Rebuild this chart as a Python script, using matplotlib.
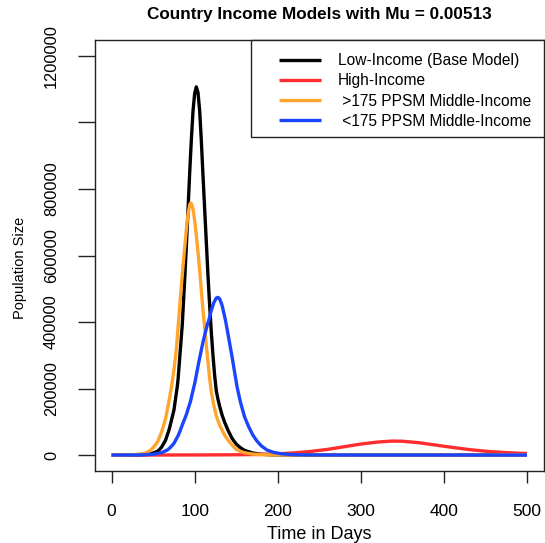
import matplotlib
matplotlib.use("Agg")
import matplotlib.pyplot as plt
from matplotlib.patches import Rectangle

plt.rcParams['font.family'] = ['Liberation Sans', 'DejaVu Sans']

# ---- data ----
low_days = [0, 10, 20, 30, 40, 45, 50, 55, 57, 60, 65, 69, 70, 75, 79, 80, 85, 88, 90, 92, 94,
            96, 98, 100, 102, 104, 106, 108, 110, 112, 114, 116, 118, 120, 122, 124, 126, 128,
            130, 133, 136, 140, 145, 150, 155, 160, 170, 180, 190, 200, 220, 250, 300, 400, 500]
low_vals = [10, 30, 100, 400, 1500, 3000, 6000, 11000, 15000, 23000, 45000, 75000, 84000,
            135000, 205000, 228000, 390000, 530000, 630000, 740000, 850000,
            950000, 1035000, 1088000, 1107000, 1090000, 1035000, 945000, 840000, 740000,
            640000, 540000, 450000, 370000, 300000, 240000, 193000, 168000,
            147000, 120000, 99000, 75000, 50000, 33000, 22000, 14000, 6000, 2500, 1000,
            400, 60, 5, 0, 0, 0]

high_days = [0, 50, 100, 150, 180, 200, 220, 240, 260, 280, 300, 320, 338, 350, 370, 390,
             410, 430, 450, 470, 490, 500]
high_vals = [0, 50, 200, 800, 1800, 3500, 6500, 11000, 17000, 25000, 33000, 39000, 42000,
             41500, 37000, 30000, 23000, 16500, 11500, 8000, 5500, 4500]

mid_hi_days = [0, 10, 20, 30, 40, 45, 47, 50, 55, 60, 65, 70, 72, 75, 78, 80, 83, 86, 88, 90,
               92, 94, 95, 96, 98, 100, 102, 104, 106, 108, 110, 112, 114, 116, 118, 120, 123,
               126, 130, 133, 136, 140, 145, 150, 155, 160, 170, 180, 190, 200, 220, 250, 300,
               400, 500]
mid_hi_vals = [50, 150, 500, 1600, 5500, 11000, 15000, 22000, 38000, 68000, 110000, 175000,
               205000, 255000, 320000, 385000, 480000, 570000, 625000, 680000,
               725000, 752000, 758000, 756000, 740000, 705000, 660000, 610000, 555000, 495000,
               435000, 385000, 330000, 280000, 230000, 190000, 150000,
               118000, 90000, 75000, 60000, 45000, 30000, 17000, 11000, 7000, 2800, 1100, 450,
               180, 30, 2, 0, 0, 0]

mid_lo_days = [0, 10, 20, 30, 40, 50, 60, 67, 70, 75, 80, 82, 85, 90, 95, 99, 100, 105, 110,
               115, 117, 120, 123, 126, 128, 130, 133, 137, 140, 145, 148, 151, 155, 160, 165,
               167, 170, 175, 180, 187, 195, 205, 220, 240, 270, 300, 350, 400, 500]
mid_lo_vals = [10, 30, 100, 280, 800, 2400, 7000, 15000, 21000, 35000, 58000, 70000, 90000,
               122000, 162000, 205000, 215000, 280000, 340000,
               390000, 406000, 435000, 458000, 472000, 474000, 470000, 450000, 406000, 365000,
               295000, 250000, 205000, 160000, 115000, 85000,
               75000, 60000, 42000, 28000, 15000, 8000, 3500, 1000, 250, 30, 5, 0, 0, 0]

labels = ["Low-Income (Base Model)", "High-Income",
          " >175 PPSM Middle-Income", " <175 PPSM Middle-Income"]
colors = ["#000000", "#FF2D2D", "#FFA42C", "#1A45FF"]

x_ticks = [0, 100, 200, 300, 400, 500]
y_ticks = [0, 200000, 400000, 600000, 800000, 1000000, 1200000]
y_ticklabels = ["0", "200000", "400000", "600000", "800000", "", "1200000"]

# ---- figure ----
W, H = 545, 543
fig = plt.figure(figsize=(W / 100, H / 100), dpi=100)
AX_L, AX_R, AX_T, AX_B = 95, 543.6, 40, 471
ax = fig.add_axes([AX_L / W, 1 - AX_B / H, (AX_R - AX_L) / W, (AX_B - AX_T) / H])


def ax_x(px):
    return (px - AX_L) / (AX_R - AX_L)


def ax_y(py):
    return (AX_B - py) / (AX_B - AX_T)


series = [(low_days, low_vals), (high_days, high_vals),
          (mid_hi_days, mid_hi_vals), (mid_lo_days, mid_lo_vals)]
for (d, v), c, lab in zip(series, colors, labels):
    ax.plot(d, v, color=c, lw=2.4, label=lab, solid_capstyle='butt')

ax.set_xlim(-20, 520)
ax.set_ylim(-48000, 1248000)
ax.set_xticks(x_ticks)
ax.set_xticklabels([str(t) for t in x_ticks])
ax.set_yticks(y_ticks)
ax.set_yticklabels(y_ticklabels, rotation=90, va='center')

for s in ax.spines.values():
    s.set_linewidth(1.0)
    s.set_color('#222222')
ax.tick_params(axis='x', length=8.5, width=1.0, pad=15, labelsize=12.5, colors='#222222',
               labelcolor='black')
ax.tick_params(axis='y', length=12, width=1.0, pad=14, labelsize=11.8, colors='#222222',
               labelcolor='black')

ax.set_xlabel("Time in Days", fontsize=13, labelpad=5)
ax.set_ylabel("Population Size", fontsize=10.5)
ax.yaxis.set_label_coords(ax_x(27), ax_y(268))
ax.set_title("Country Income Models with Mu = 0.00513", fontsize=12.3, fontweight='bold',
             pad=15)

# legend frame drawn separately so its padding can match the reference
frame = Rectangle((ax_x(251), ax_y(137)), 1 - ax_x(251), ax_y(40) - ax_y(137),
                  transform=ax.transAxes, fill=True, facecolor='white',
                  edgecolor='#222222', lw=1.0, zorder=4, clip_on=False)
ax.add_patch(frame)
leg = ax.legend(loc='upper left', bbox_to_anchor=(ax_x(279), ax_y(53)),
                borderaxespad=0, borderpad=0, frameon=False, fontsize=11.2,
                handlelength=2.7, handletextpad=1.1, labelspacing=0.34)
leg.set_zorder(5)
for line in leg.get_lines():
    line.set_linewidth(2.4)

fig.savefig("out.png", dpi=100)
